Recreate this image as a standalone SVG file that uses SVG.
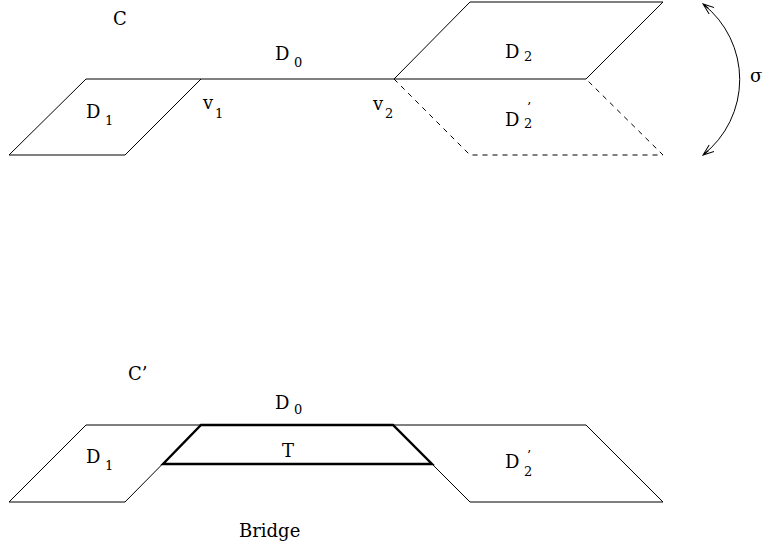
<svg xmlns="http://www.w3.org/2000/svg" width="770" height="547" viewBox="0 0 770 547">
<defs>
<marker id="arr" viewBox="0 0 12 10" refX="11" refY="5" markerWidth="12" markerHeight="10" markerUnits="userSpaceOnUse" orient="auto-start-reverse">
<path d="M0,1 L11,5 L0,9 M4,5 L11,5" fill="none" stroke="#000" stroke-width="1"/>
</marker>
<style>
.s{fill:none;stroke:#000;stroke-width:1;stroke-linejoin:miter}
.d{fill:none;stroke:#000;stroke-width:1;stroke-dasharray:5,5}
.b{fill:none;stroke:#000;stroke-width:2.4;stroke-linejoin:miter}
text{font-family:"DejaVu Serif","Liberation Serif",serif;font-size:18px;fill:#000}
.sub{font-size:13px}
</style>
</defs>
<rect width="770" height="547" fill="#fff"/>
<!-- Top picture C -->
<g id="labelC"><text x="113" y="25">C</text></g>
<g id="D1top">
<path class="s" d="M86,79 L201,79 L125,155 L9,155 Z"/>
<text x="86" y="118">D<tspan class="sub" x="105" y="125">1</tspan></text>
</g>
<g id="D0top">
<path class="s" d="M201,79 L394,79"/>
<text x="275" y="60">D<tspan class="sub" x="294" y="67">0</tspan></text>
</g>
<g id="v1"><text x="203" y="109">v<tspan class="sub" x="215" y="118">1</tspan></text></g>
<g id="v2"><text x="373" y="110">v<tspan class="sub" x="385" y="118">2</tspan></text></g>
<g id="D2">
<path class="s" d="M470,2 L663,2 L586,79 L394,79 Z"/>
<text x="505" y="58">D<tspan class="sub" x="524" y="61">2</tspan></text>
</g>
<g id="D2prime">
<path class="d" d="M394,79 L470,155 L663,155 L586,79"/>
<text x="505" y="126">D<tspan class="sub" x="524" y="128">2</tspan></text>
<text class="sub" x="527" y="112">’</text>
</g>
<g id="connectors">
<path class="s" d="M703,4 A96,96 0 0 1 703,155" marker-start="url(#arr)" marker-end="url(#arr)"/>
</g>
<g id="sigma"><text x="750" y="82">σ</text></g>
<!-- Bottom picture C' -->
<g id="labelCprime"><text x="128" y="380">C’</text></g>
<g id="D1bottom">
<path class="s" d="M86,425 L201,425 L125,502 L9,502 Z"/>
<text x="86" y="463">D<tspan class="sub" x="105" y="470">1</tspan></text>
</g>
<g id="D0bottom">
<text x="275" y="409">D<tspan class="sub" x="294" y="414">0</tspan></text>
</g>
<g id="D2primeBottom">
<path class="s" d="M393,425 L586,425 L663,502 L470,502 Z"/>
<text x="505" y="468">D<tspan class="sub" x="524" y="476">2</tspan></text>
<text class="sub" x="527" y="460">’</text>
</g>
<g id="T">
<path class="b" d="M201,425 L393,425 L432,464 L163,464 Z"/>
<text x="282" y="457">T</text>
</g>
<g id="bridge"><text x="239" y="537">Bridge</text></g>
</svg>
